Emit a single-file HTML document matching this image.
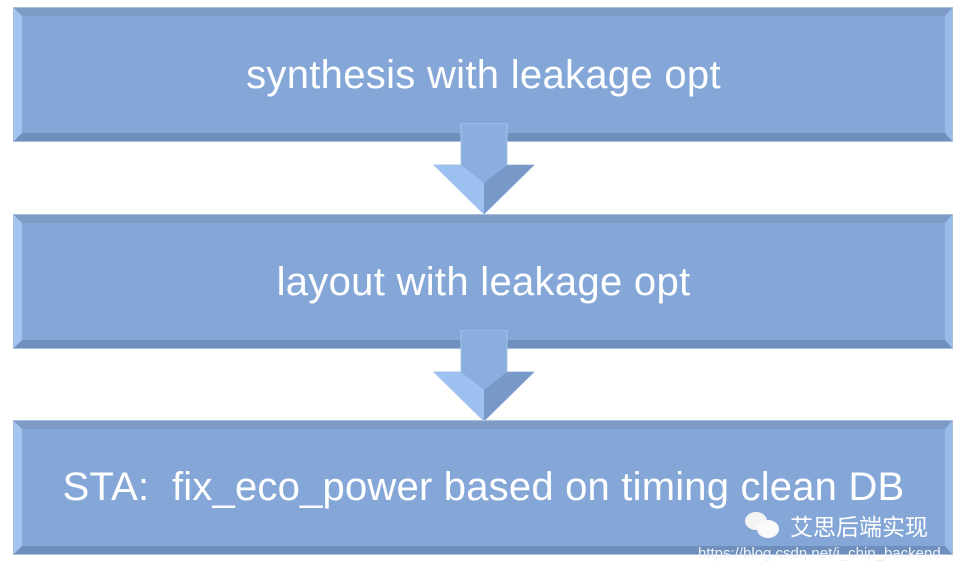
<!DOCTYPE html>
<html><head><style>
body{margin:0;width:965px;height:573px;background:#fff;position:relative;overflow:hidden;font-family:"Liberation Sans","Noto Sans CJK SC",sans-serif}
.box{position:absolute;left:14px;width:938px;height:133px;background:#84a7d8;box-sizing:border-box;
border-style:solid;border-width:8px 7px 8px 8px;border-color:#7e9bc6 #97bcea #6f8fbd #a3c4ef;
box-shadow:0 0 0 1px #a9bedc;color:#fff;font-size:40px;display:flex;align-items:center;justify-content:center;letter-spacing:0.3px}
.arr{position:absolute;left:432px;width:104px}
</style></head><body>
<div class="box" style="top:8px;padding-top:2px">synthesis with leakage opt</div>
<div class="box" style="top:215px;padding-top:2px">layout with leakage opt</div>
<div class="box" style="top:421px;font-size:40px;padding-bottom:0px;letter-spacing:0.2px">STA:&nbsp; fix_eco_power based on timing clean DB</div>
<svg class="arr" style="top:123px" height="92" viewBox="0 0 104 92"><polygon points="29,0 75,0 75,42 102,42 52,91 2,42 29,42" fill="#8aaedf" stroke="#a8c6ee" stroke-width="1"/><polygon points="52,91 2,42 29,42 52,60" fill="#9cc0f0"/><polygon points="52,91 102,42 75,42 52,60" fill="#7898c8"/></svg>
<svg class="arr" style="top:330px" height="92" viewBox="0 0 104 92"><polygon points="29,0 75,0 75,42 102,42 52,91 2,42 29,42" fill="#8aaedf" stroke="#a8c6ee" stroke-width="1"/><polygon points="52,91 2,42 29,42 52,60" fill="#9cc0f0"/><polygon points="52,91 102,42 75,42 52,60" fill="#7898c8"/></svg>
<div style="position:absolute;left:745px;top:512px;width:38px;height:26px">
<div style="position:absolute;left:0;top:0;width:22px;height:18px;border-radius:50%;background:#f4f4f4"></div>
<div style="position:absolute;left:12px;top:8px;width:22px;height:18px;border-radius:50%;background:#fafafa"></div></div>
<div style="position:absolute;left:790px;top:511px;color:#fff;font-size:23px;font-family:'Noto Sans CJK SC',sans-serif;line-height:28px">艾思后端实现</div>
<div style="position:absolute;left:698px;top:544px;color:#eef2f8;font-size:15px;line-height:20px">https://blog.csdn.net/i_chip_backend</div>
</body></html>
